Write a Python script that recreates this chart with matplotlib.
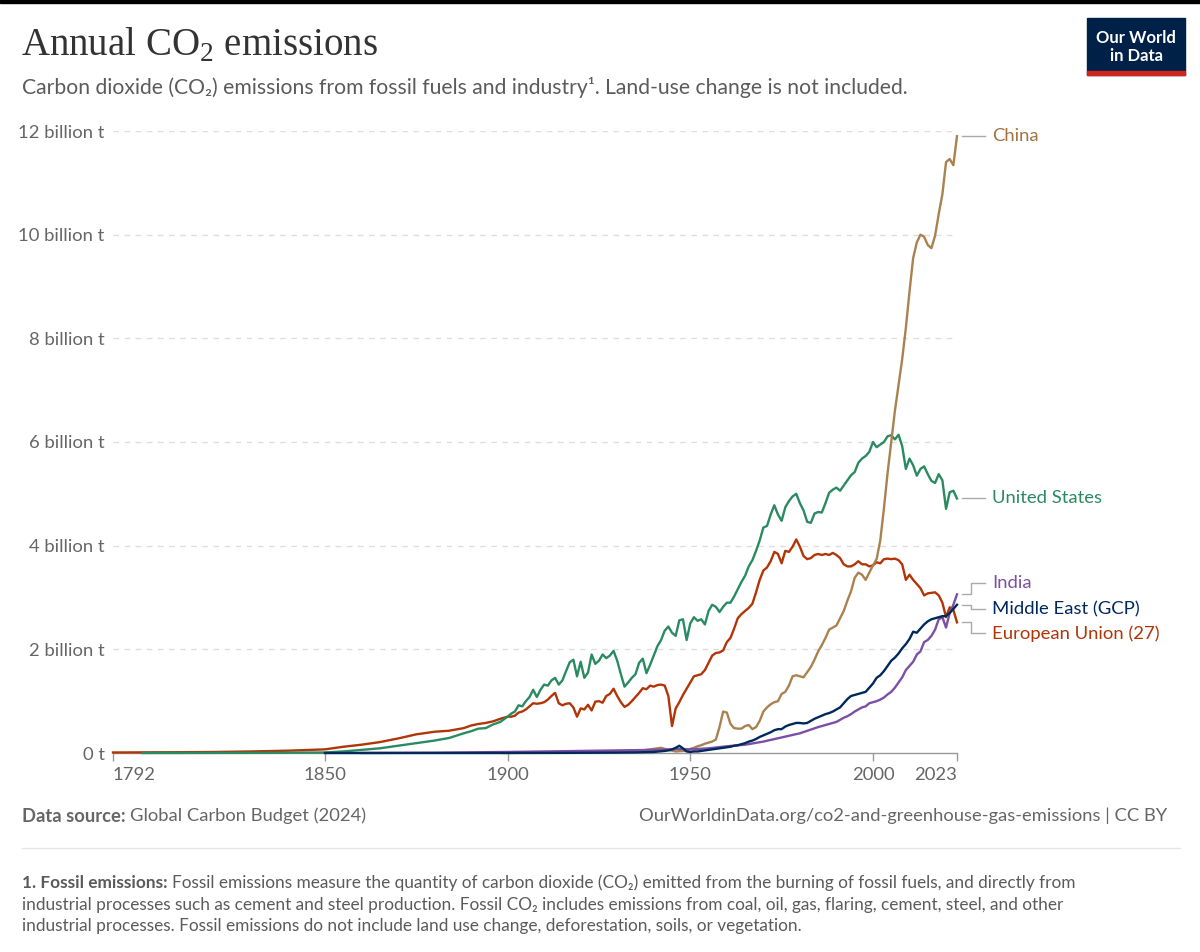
import matplotlib
matplotlib.use("Agg")
import matplotlib.pyplot as plt
from matplotlib.lines import Line2D
from matplotlib.patches import Rectangle

plt.rcParams['font.family'] = ['Lato', 'DejaVu Sans']

# ---- data (billion tonnes CO2) ----
us_years = [1800, 1810, 1820, 1830, 1840, 1850, 1855, 1860, 1865, 1870, 1875, 1880, 1884, 1888,
            1890, 1892, 1894, 1896, 1898] + list(range(1900, 2024))
us_vals = [0.0002, 0.0005, 0.001, 0.003, 0.006, 0.01, 0.03, 0.06, 0.09, 0.14, 0.19, 0.24, 0.29, 0.38,
           0.42, 0.47, 0.48, 0.55, 0.60,
           0.70, 0.76, 0.80, 0.92, 0.90, 1.00, 1.08, 1.22, 1.08, 1.22,
           1.32, 1.30, 1.40, 1.45, 1.32, 1.40, 1.58, 1.75, 1.80, 1.48,
           1.76, 1.45, 1.55, 1.90, 1.72, 1.78, 1.90, 1.83, 1.88, 1.97,
           1.78, 1.52, 1.28, 1.36, 1.45, 1.52, 1.74, 1.82, 1.54, 1.70,
           1.88, 2.06, 2.18, 2.36, 2.44, 2.32, 2.26, 2.56, 2.58, 2.18,
           2.50, 2.62, 2.55, 2.58, 2.48, 2.74, 2.86, 2.82, 2.72, 2.82,
           2.90, 2.90, 3.02, 3.16, 3.30, 3.42, 3.60, 3.72, 3.90, 4.10,
           4.35, 4.38, 4.60, 4.78, 4.60, 4.48, 4.74, 4.86, 4.95, 5.00,
           4.82, 4.68, 4.46, 4.44, 4.62, 4.65, 4.64, 4.82, 5.02, 5.08,
           5.12, 5.06, 5.16, 5.26, 5.36, 5.42, 5.60, 5.68, 5.73, 5.81,
           6.00, 5.90, 5.95, 6.00, 6.11, 6.13, 6.05, 6.14, 5.92, 5.48,
           5.68, 5.55, 5.35, 5.48, 5.53, 5.38, 5.25, 5.21, 5.38, 5.26,
           4.71, 5.03, 5.06, 4.91]

eu_years = [1792, 1800, 1810, 1820, 1830, 1840, 1850, 1855, 1860, 1865, 1870, 1875, 1880, 1884, 1888,
            1890, 1892, 1894, 1896, 1898] + list(range(1900, 2024))
eu_vals = [0.01, 0.012, 0.015, 0.02, 0.03, 0.045, 0.07, 0.12, 0.16, 0.21, 0.28, 0.36, 0.41, 0.43, 0.48,
           0.53, 0.56, 0.58, 0.61, 0.66,
           0.70, 0.70, 0.72, 0.78, 0.80, 0.84, 0.90, 0.96, 0.95, 0.96,
           0.98, 1.03, 1.10, 1.16, 0.96, 0.92, 0.95, 0.96, 0.88, 0.70,
           0.86, 0.84, 0.93, 0.82, 0.99, 1.00, 0.97, 1.10, 1.14, 1.24,
           1.10, 0.98, 0.89, 0.93, 1.00, 1.08, 1.16, 1.25, 1.23, 1.30,
           1.28, 1.31, 1.32, 1.30, 1.10, 0.52, 0.86, 0.98, 1.12, 1.24,
           1.36, 1.48, 1.50, 1.52, 1.60, 1.74, 1.88, 1.93, 1.94, 1.98,
           2.14, 2.22, 2.40, 2.60, 2.68, 2.74, 2.80, 2.88, 3.10, 3.34,
           3.52, 3.58, 3.70, 3.88, 3.84, 3.66, 3.90, 3.88, 3.98, 4.12,
           3.98, 3.80, 3.74, 3.76, 3.82, 3.84, 3.82, 3.84, 3.82, 3.86,
           3.82, 3.76, 3.64, 3.60, 3.60, 3.64, 3.70, 3.64, 3.64, 3.60,
           3.62, 3.68, 3.66, 3.74, 3.75, 3.74, 3.75, 3.72, 3.64, 3.34,
           3.44, 3.34, 3.26, 3.18, 3.04, 3.08, 3.09, 3.10, 3.04, 2.90,
           2.62, 2.81, 2.76, 2.52]

china_years = [1899, 1910, 1920, 1930, 1937, 1940, 1942, 1944, 1946, 1948, 1949] + list(range(1950, 2024))
china_vals = [0.0, 0.01, 0.02, 0.03, 0.05, 0.08, 0.10, 0.06, 0.03, 0.04, 0.04,
              0.08, 0.10, 0.13, 0.15, 0.18, 0.20, 0.22, 0.26, 0.50, 0.80,
              0.78, 0.56, 0.48, 0.47, 0.47, 0.52, 0.54, 0.46, 0.50, 0.62,
              0.80, 0.88, 0.94, 0.98, 1.00, 1.14, 1.18, 1.30, 1.48, 1.50,
              1.48, 1.46, 1.56, 1.66, 1.80, 1.96, 2.08, 2.22, 2.38, 2.42,
              2.46, 2.60, 2.74, 2.94, 3.12, 3.38, 3.48, 3.44, 3.34, 3.48,
              3.62, 3.74, 4.10, 4.72, 5.40, 6.00, 6.60, 7.10, 7.60, 8.20,
              8.90, 9.55, 9.85, 10.00, 9.96, 9.80, 9.74, 9.98, 10.40, 10.78,
              11.40, 11.46, 11.34, 11.90]

me_years = [1850, 1900, 1910, 1920, 1930, 1935, 1940, 1943] + list(range(1944, 2024))
me_vals = [0.0, 0.001, 0.002, 0.004, 0.008, 0.012, 0.02, 0.04,
           0.05, 0.07, 0.10, 0.14, 0.09, 0.03,
           0.02, 0.03, 0.03, 0.04, 0.05, 0.06, 0.07, 0.08, 0.09, 0.10,
           0.11, 0.12, 0.14, 0.15, 0.17, 0.19, 0.22, 0.24, 0.27, 0.31,
           0.34, 0.37, 0.40, 0.44, 0.46, 0.46, 0.51, 0.54, 0.56, 0.58,
           0.58, 0.57, 0.58, 0.62, 0.66, 0.69, 0.72, 0.75, 0.77, 0.80,
           0.84, 0.88, 0.96, 1.04, 1.10, 1.12, 1.14, 1.16, 1.18, 1.26,
           1.34, 1.45, 1.50, 1.58, 1.68, 1.78, 1.84, 1.92, 2.02, 2.10,
           2.20, 2.34, 2.32, 2.40, 2.48, 2.54, 2.58, 2.60, 2.62, 2.64,
           2.64, 2.70, 2.78, 2.86]

india_years = [1860, 1880, 1900, 1910, 1920, 1930, 1940, 1945, 1947, 1950, 1955, 1960, 1965, 1970,
               1975, 1980, 1985] + list(range(1990, 2024))
india_vals = [0.001, 0.005, 0.02, 0.03, 0.04, 0.05, 0.06, 0.07, 0.08, 0.07, 0.09, 0.13, 0.16, 0.22,
              0.30, 0.38, 0.50,
              0.60, 0.64, 0.68, 0.71, 0.75, 0.80, 0.84, 0.88, 0.90, 0.96,
              0.98, 1.00, 1.03, 1.07, 1.13, 1.18, 1.26, 1.36, 1.46, 1.60,
              1.68, 1.76, 1.90, 1.96, 2.14, 2.18, 2.26, 2.38, 2.58, 2.62,
              2.42, 2.70, 2.86, 3.06]

series = [
    ("European Union (27)", eu_years, eu_vals, "#b13507", "#b13507"),
    ("United States", us_years, us_vals, "#2a8a62", "#2a8a62"),
    ("China", china_years, china_vals, "#a9824f", "#a07440"),
    ("India", india_years, india_vals, "#7b4fa6", "#7b4fa6"),
    ("Middle East (GCP)", me_years, me_vals, "#00295b", "#00295b"),
]

# label positions (billion t), nudged apart where they would collide
label_at = {"China": 11.9, "United States": 4.91, "India": 3.28,
            "Middle East (GCP)": 2.78, "European Union (27)": 2.31}

y_ticks = [0, 2, 4, 6, 8, 10, 12]
y_labels = ["0 t", "2 billion t", "4 billion t", "6 billion t", "8 billion t", "10 billion t", "12 billion t"]
x_ticks = [1792, 1850, 1900, 1950, 2000, 2023]

W, H = 1200, 952
fig = plt.figure(figsize=(W / 100, H / 100), dpi=100)


def fx(px):
    return px / W


def fy(py):
    return 1 - py / H


ax = fig.add_axes([fx(113), fy(753), fx(957) - fx(113), fy(131) - fy(753)])

for name, yrs, vals, col, tcol in series:
    ax.plot(yrs, vals, color=col, lw=1.7, clip_on=False, zorder=3)

ax.set_xlim(1792, 2023)
ax.set_ylim(0, 12)
ax.set_xticks(x_ticks)
ax.set_yticks(y_ticks)
ax.set_yticklabels(y_labels)
for s in ['top', 'right', 'left']:
    ax.spines[s].set_visible(False)
ax.spines['bottom'].set_color('#999999')
ax.spines['bottom'].set_linewidth(1)
ax.tick_params(axis='y', length=0, pad=6, labelsize=13.3, labelcolor='#666666')
ax.tick_params(axis='x', length=6, width=1, color='#999999', pad=4, labelsize=13.3, labelcolor='#666666')
xl = ax.get_xticklabels()
xl[0].set_ha('left')
xl[-1].set_ha('right')
for yv in y_ticks[1:]:
    ax.axhline(yv, color='#dddddd', lw=1, dashes=(4, 4), zorder=1)

# end labels with connectors (drawn in pixel space)
fig.canvas.draw()
renderer = fig.canvas.get_renderer()
for name, yrs, vals, col, tcol in series:
    x0, y0 = ax.transData.transform((yrs[-1], vals[-1]))
    _, y1 = ax.transData.transform((yrs[-1], label_at[name]))
    xa = x0 + 5
    xm = x0 + 14
    xb = x0 + 28
    if abs(y1 - y0) < 1.5:
        xs, ys = [xa, xb], [y0, y0]
    else:
        xs, ys = [xa, xm, xm, xb], [y0, y0, y1, y1]
    fig.add_artist(Line2D(xs, ys, transform=None, color='#aaaaaa', lw=1))
    fig.text((xb + 7) / W, y1 / H, name, color=tcol, fontsize=13.3, va='center', ha='left')


def bold_then_plain(x, y, bold, plain, size, color):
    t = fig.text(fx(x), fy(y), bold, fontsize=size, color=color, weight='bold', va='center', ha='left')
    bb = t.get_window_extent(renderer)
    fig.text(bb.x1 / W + 4 / W, fy(y), plain, fontsize=size, color=color, va='center', ha='left')


# header
fig.add_artist(Rectangle((0, fy(3)), 1, 3 / H, transform=fig.transFigure, color='black'))
fig.text(fx(21), fy(46), "Annual CO$_\\mathregular{2}$ emissions", fontsize=28, color='#333333',
         family=['Liberation Serif', 'DejaVu Serif'], va='center', ha='left')
fig.text(fx(22), fy(88), "Carbon dioxide (CO\u2082) emissions from fossil fuels and industry\u00b9. Land-use change is not included.",
         fontsize=15.2, color='#5b5b5b', va='center', ha='left')

# logo
fig.add_artist(Rectangle((fx(1087), fy(75)), fx(98), 57 / H, transform=fig.transFigure, color='#002147'))
fig.add_artist(Rectangle((fx(1087), fy(75)), fx(98), 4 / H, transform=fig.transFigure, color='#ce261e'))
fig.text(fx(1136), fy(38), "Our World", color='white', fontsize=12, weight='bold', ha='center', va='center')
fig.text(fx(1136), fy(56), "in Data", color='white', fontsize=12, weight='bold', ha='center', va='center')

# footer
bold_then_plain(22, 816, "Data source:", "Global Carbon Budget (2024)", 13.2, '#666666')
fig.text(fx(1167), fy(816), "OurWorldinData.org/co2-and-greenhouse-gas-emissions | CC BY",
         fontsize=13.2, color='#666666', va='center', ha='right')
fig.add_artist(Line2D([fx(22), fx(1180)], [fy(848), fy(848)], transform=fig.transFigure, color='#e6e6e6', lw=1))

notes = [
    "Fossil emissions measure the quantity of carbon dioxide (CO\u2082) emitted from the burning of fossil fuels, and directly from",
    "industrial processes such as cement and steel production. Fossil CO\u2082 includes emissions from coal, oil, gas, flaring, cement, steel, and other",
    "industrial processes. Fossil emissions do not include land use change, deforestation, soils, or vegetation.",
]
bold_then_plain(22, 883, "1. Fossil emissions:", notes[0], 12.4, '#5b5b5b')
fig.text(fx(22), fy(905), notes[1], fontsize=12.4, color='#5b5b5b', va='center', ha='left')
fig.text(fx(22), fy(926), notes[2], fontsize=12.4, color='#5b5b5b', va='center', ha='left')

fig.savefig("out.png", dpi=100, facecolor='white')
